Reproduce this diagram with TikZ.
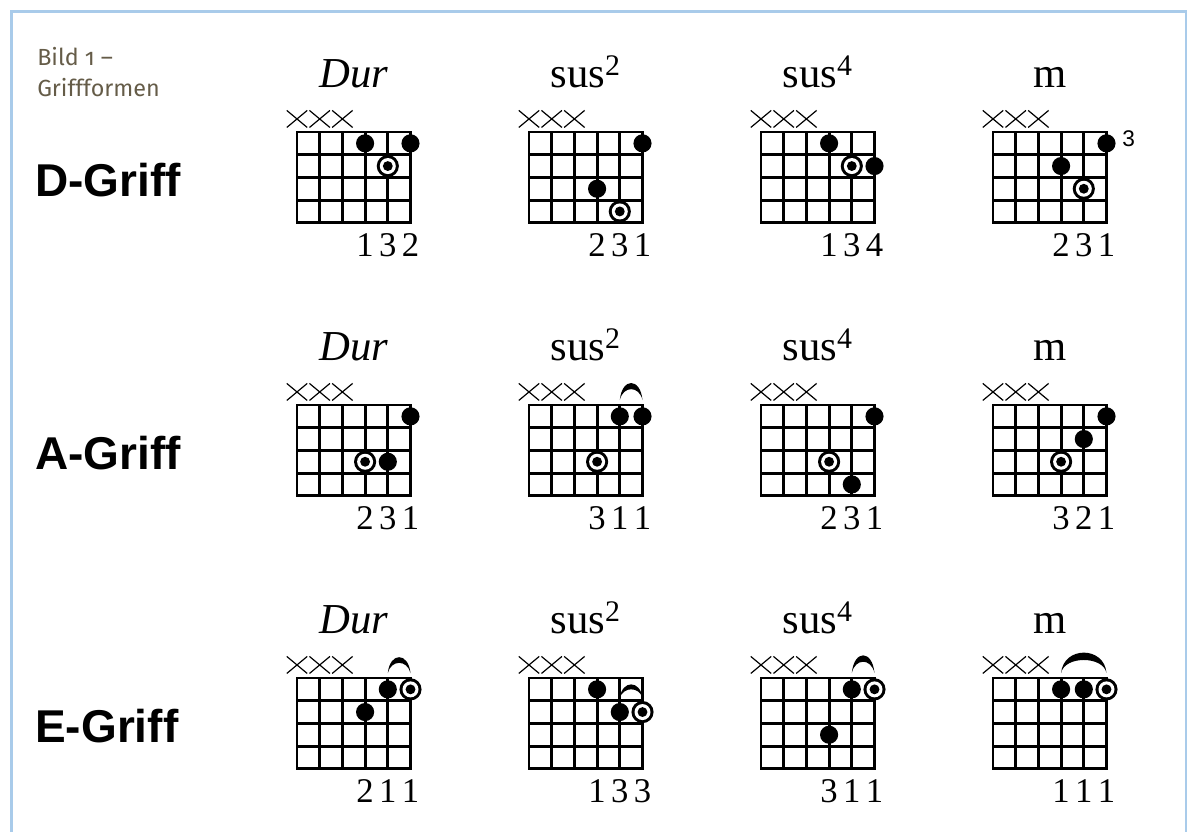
\documentclass[tikz,border=0pt]{standalone}
\usepackage{fontspec}
\setmainfont{Liberation Serif}
\newfontfamily\griffsans{Liberation Sans}
\newfontfamily\capsans[Numbers=OldStyle]{Fira Sans}
\usepackage{xcolor}
\definecolor{rahmenblau}{HTML}{A9CBEA}
\definecolor{captext}{HTML}{655C48}

% grid, XXX, title and finger numbers of one chord shape
\newcommand{\griffbox}[5]{%
  \draw[gridline] (0,0) rectangle (5,4);
  \foreach \s in {1,...,4} \draw[gridline] (\s,0) -- (\s,4);
  \foreach \f in {1,2,3} \draw[gridline] (0,\f) -- (5,\f);
  \foreach \s in {0,1,2}
    \draw[xmark] (\s-0.45,-0.2) -- (\s+0.45,-0.95) (\s-0.45,-0.95) -- (\s+0.45,-0.2);
  \node[titletext] (#1-titel) at (2.5,-1.98) {#2};
  \node[fingertext] (#1-a) at (3,5.5) {#3};
  \node[fingertext] (#1-b) at (4,5.5) {#4};
  \node[fingertext] (#1-c) at (5,5.5) {#5};
}
\newcommand{\fingerdot}[2]{\fill (#1-1,#2-0.5) circle (6.8pt);}
\newcommand{\grundton}[2]{%
  \fill (#1-1,#2-0.5) circle (8.3pt);
  \fill[white] (#1-1,#2-0.5) circle (6pt);
  \fill (#1-1,#2-0.5) circle (3.7pt);
}
% barre arc: string from, string to, foot y, height
\newcommand{\griffbogen}[4]{%
  \fill (#1-1,#3) .. controls (#1-0.9,#3-1.33*#4) and (#2-1.1,#3-1.33*#4) .. (#2-1,#3)
    .. controls (#2-1.15,#3-0.85*#4) and (#1-0.85,#3-0.85*#4) .. (#1-1,#3) -- cycle;
}

\begin{document}
\begin{tikzpicture}[
    x=0.75pt, y=-0.75pt,
    gridline/.style={line width=2.2pt},
    xmark/.style={line width=0.9pt},
    titletext/.style={anchor=base, inner sep=0pt, font=\fontsize{32}{36}\selectfont},
    fingertext/.style={anchor=base, inner sep=0pt, font=\fontsize{26}{28}\selectfont},
    fretnum/.style={inner sep=0pt, font=\griffsans\fontsize{17}{19}\selectfont},
    rowlabel/.style={anchor=base west, inner sep=0pt, font=\griffsans\bfseries\fontsize{34.5}{40}\selectfont},
    caption/.style={anchor=base west, inner sep=0pt, text=captext, font=\capsans\fontsize{17.5}{22}\selectfont},
    griff/.style={x=17.025pt, y=-17.025pt}
]
\useasboundingbox (0,0) rectangle (1190,832);
\draw[rahmenblau, line width=1.9pt] (11.5,832) -- (11.5,11.5) -- (1186,11.5) -- (1186,832);

\node[caption] (bild) at (37,65) {Bild 1 –};
\node[caption] (bildtitel) at (37,96) {Griffformen};

\node[rowlabel] (dgriff) at (35,196) {D-Griff};
\node[rowlabel] (agriff) at (35,469) {A-Griff};
\node[rowlabel] (egriff) at (35,742) {E-Griff};

% D-Griff
\begin{scope}[shift={(297,132)}, griff]
  \griffbox{ddur}{\textit{Dur}}{1}{3}{2}
  \fingerdot{4}{1} \fingerdot{6}{1} \grundton{5}{2}
\end{scope}
\begin{scope}[shift={(529,132)}, griff]
  \griffbox{dsus2}{sus\textsuperscript{2}}{2}{3}{1}
  \fingerdot{6}{1} \fingerdot{4}{3} \grundton{5}{4}
\end{scope}
\begin{scope}[shift={(761,132)}, griff]
  \griffbox{dsus4}{sus\textsuperscript{4}}{1}{3}{4}
  \fingerdot{4}{1} \grundton{5}{2} \fingerdot{6}{2}
\end{scope}
\begin{scope}[shift={(993,132)}, griff]
  \griffbox{dm}{m}{2}{3}{1}
  \fingerdot{6}{1} \fingerdot{4}{2} \grundton{5}{3}
  \node[fretnum] (dm-bund) at (5.98,0.3) {3};
\end{scope}

% A-Griff
\begin{scope}[shift={(297,405)}, griff]
  \griffbox{adur}{\textit{Dur}}{2}{3}{1}
  \fingerdot{6}{1} \grundton{4}{3} \fingerdot{5}{3}
\end{scope}
\begin{scope}[shift={(529,405)}, griff]
  \griffbox{asus2}{sus\textsuperscript{2}}{3}{1}{1}
  \griffbogen{5}{6}{-0.22}{0.75}
  \fingerdot{5}{1} \fingerdot{6}{1} \grundton{4}{3}
\end{scope}
\begin{scope}[shift={(761,405)}, griff]
  \griffbox{asus4}{sus\textsuperscript{4}}{2}{3}{1}
  \fingerdot{6}{1} \grundton{4}{3} \fingerdot{5}{4}
\end{scope}
\begin{scope}[shift={(993,405)}, griff]
  \griffbox{am}{m}{3}{2}{1}
  \fingerdot{6}{1} \fingerdot{5}{2} \grundton{4}{3}
\end{scope}

% E-Griff
\begin{scope}[shift={(297,678)}, griff]
  \griffbox{edur}{\textit{Dur}}{2}{1}{1}
  \griffbogen{5}{6}{-0.22}{0.7}
  \fingerdot{5}{1} \grundton{6}{1} \fingerdot{4}{2}
\end{scope}
\begin{scope}[shift={(529,678)}, griff]
  \griffbox{esus2}{sus\textsuperscript{2}}{1}{3}{3}
  \fingerdot{4}{1}
  \griffbogen{5}{6}{0.88}{0.6}
  \fingerdot{5}{2} \grundton{6}{2}
\end{scope}
\begin{scope}[shift={(761,678)}, griff]
  \griffbox{esus4}{sus\textsuperscript{4}}{3}{1}{1}
  \griffbogen{5}{6}{-0.22}{0.78}
  \fingerdot{5}{1} \grundton{6}{1} \fingerdot{4}{3}
\end{scope}
\begin{scope}[shift={(993,678)}, griff]
  \griffbox{em}{m}{1}{1}{1}
  \griffbogen{4}{6}{-0.22}{0.9}
  \fingerdot{4}{1} \fingerdot{5}{1} \grundton{6}{1}
\end{scope}
\end{tikzpicture}
\end{document}
